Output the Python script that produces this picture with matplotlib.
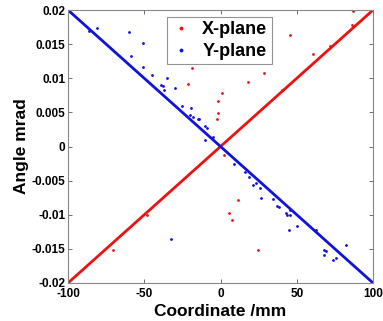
import matplotlib
matplotlib.use("Agg")
import matplotlib.pyplot as plt
from matplotlib.lines import Line2D

# fitted lines (end points)
line_x = [-100, 100]
xplane_line_y = [-0.02, 0.02]
yplane_line_y = [0.02, -0.02]

# X-plane scattered points
xp_x = [45.6, -18.9, -21.1, 0.8, -1.4, -1.4, -2.1, 17.8, 28.7, 2.5, 86.9, 60.4, 86.0,
        11.7, 5.8, 7.3, 24.4, -70.7, -48.0, 40.0, 72.0]
xp_y = [0.0163, 0.0115, 0.0091, 0.0078, 0.0067, 0.0049, 0.0040, 0.0095, 0.0107, -0.0012,
        0.0199, 0.0135, 0.0178, -0.0079, -0.0097, -0.0107, -0.0152, -0.0151, -0.0100,
        0.0083, 0.0148]

# Y-plane scattered points
yp_x = [-81.2, -86.0, -60.0, -51.0, -58.7, -51.0, -44.7, -35.3, -39.0, -37.5, -37.0,
        -29.8, -25.4, -19.3, -20.0, -17.8, -14.1, -14.6, -10.2, -9.0, -5.1, -10.2,
        8.9, 16.1, 18.9, 21.5, 23.3, 25.9, 26.6, 34.2, 36.8, 38.2, 43.0, 43.8, 45.6,
        45.6, 44.9, 50.0, 62.4, 67.9, 69.0, 68.1, 73.6, 75.7, 82.3, -32.5]
yp_y = [0.0174, 0.0169, 0.0168, 0.0152, 0.0132, 0.0117, 0.0105, 0.0100, 0.0090, 0.0088,
        0.0083, 0.0085, 0.0059, 0.0056, 0.0046, 0.0043, 0.0040, 0.0040, 0.0030, 0.0027,
        0.0014, 0.0010, -0.00257, -0.0037, -0.0044, -0.0056, -0.0054, -0.0061, -0.0075,
        -0.0077, -0.0087, -0.0088, -0.0098, -0.0101, -0.0100, -0.0093, -0.0122, -0.0116,
        -0.0122, -0.0152, -0.0153, -0.0159, -0.0166, -0.0163, -0.0145, -0.0135]

x_ticks = [-100, -50, 0, 50, 100]
y_ticks = [-0.02, -0.015, -0.01, -0.005, 0, 0.005, 0.01, 0.015, 0.02]
y_tick_labels = ['-0.02', '-0.015', '-0.01', '-0.005', '0', '0.005', '0.01', '0.015', '0.02']

plt.rcParams['font.family'] = ['Liberation Sans', 'DejaVu Sans']
fig = plt.figure(figsize=(3.83, 3.21), dpi=100)
ax = fig.add_axes([0.1775, 0.1184, 0.7965, 0.8504])

red = '#ee1111'
blue = '#1111dd'
ax.plot(line_x, xplane_line_y, color=red, lw=2.0)
ax.plot(line_x, yplane_line_y, color=blue, lw=2.0)
ax.plot(xp_x, xp_y, ls='none', marker='.', ms=2.0, color=red)
ax.plot(yp_x, yp_y, ls='none', marker='.', ms=2.0, color=blue)

ax.set_xlim(-100, 100)
ax.set_ylim(-0.02, 0.02)
ax.set_xticks(x_ticks)
ax.set_xticklabels([str(v) for v in x_ticks], fontweight='bold', fontsize=8.5)
ax.set_yticks(y_ticks)
ax.set_yticklabels(y_tick_labels, fontweight='bold', fontsize=8.5)
ax.tick_params(direction='in', top=True, right=True, length=3, width=0.6, color='#555555', pad=2)
ax.tick_params(axis='x', pad=3.5)
for s in ax.spines.values():
    s.set_color('#888888')
    s.set_linewidth(0.8)

ax.set_xlabel('Coordinate /mm', fontweight='bold', fontsize=12.5, labelpad=3)
ax.set_ylabel('Angle mrad', fontweight='bold', fontsize=12.5, labelpad=2)

handles = [Line2D([], [], ls='none', marker='.', ms=3.5, color=red),
           Line2D([], [], ls='none', marker='.', ms=3.5, color=blue)]
leg = ax.legend(handles, ['X-plane', 'Y-plane'], loc='upper left',
                bbox_to_anchor=(0.325, 0.975), prop={'weight': 'bold', 'size': 13},
                frameon=True, fancybox=False, edgecolor='#777777', handlelength=1.0,
                handletextpad=0.7, borderpad=0.25, labelspacing=0.25, borderaxespad=0)
leg.get_frame().set_linewidth(0.8)

fig.savefig('out.png', dpi=100)
